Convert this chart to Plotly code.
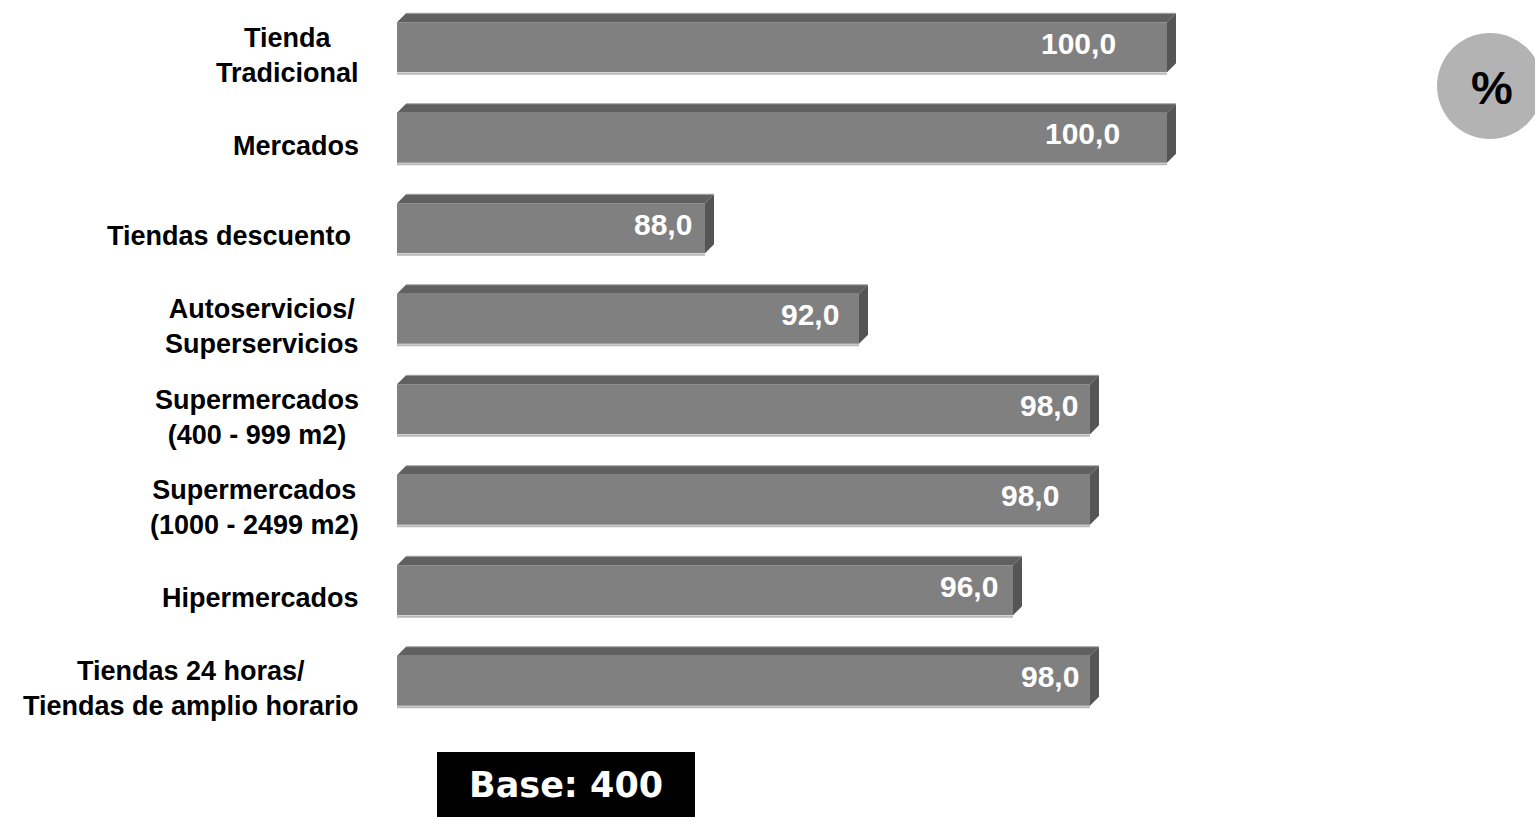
import plotly.graph_objects as go

# data
categories = [
    "Tienda<br>Tradicional",
    "Mercados",
    "Tiendas descuento\u00a0",
    "Autoservicios/<br>Superservicios",
    "Supermercados<br>(400 - 999 m2)",
    "Supermercados<br>(1000 - 2499 m2)",
    "Hipermercados",
    "Tiendas 24 horas/<br>Tiendas de amplio horario",
]
values = [100.0, 100.0, 88.0, 92.0, 98.0, 98.0, 96.0, 98.0]
base_text = "Base: 400"
unit_text = "%"

# label offsets from bar end (px), as placed in the original
label_shift = [-49, -45, -11, -18, -10, -29, -13, -9]

# layout geometry (px)
W, H = 1535, 817
L, T = 397, 2
PW, PH = 1000, 724
X_MIN = 80
PX_PER_X = 38.5
PX_PER_Y = PH / len(categories)
DEPTH = 9
BAR_PX = 50

FONT = "Arial, 'Liberation Sans', sans-serif"

dx = DEPTH / PX_PER_X
dy = DEPTH / PX_PER_Y
bw = BAR_PX / PX_PER_Y
idx = list(range(len(categories)))


def paper_x(px):
    return (px - L) / PW


def paper_y(py):
    return (T + PH - py) / PH


top_x, top_y, side_x, side_y = [], [], [], []
edge_x, edge_y, floor_x, floor_y = [], [], [], []
for i, v in zip(idx, values):
    y_top = i - bw / 2
    y_bot = i + bw / 2
    top_x += [X_MIN, X_MIN + dx, v + dx, v, X_MIN, None]
    top_y += [y_top, y_top - dy, y_top - dy, y_top, y_top, None]
    side_x += [v, v + dx, v + dx, v, v, None]
    side_y += [y_top, y_top - dy, y_bot - dy, y_bot, y_top, None]
    edge_x += [X_MIN + dx, v + dx, None]
    edge_y += [y_top - dy, y_top - dy, None]
    floor_x += [X_MIN, v, None]
    floor_y += [y_bot + 1.5 / PX_PER_Y, y_bot + 1.5 / PX_PER_Y, None]

fig = go.Figure()
fig.add_trace(
    go.Bar(
        y=idx,
        x=values,
        orientation="h",
        width=bw,
        marker=dict(color="#808080", line=dict(width=0)),
        hoverinfo="skip",
    )
)
fig.add_trace(
    go.Scatter(x=top_x, y=top_y, mode="lines", fill="toself", fillcolor="#606060",
               line=dict(width=0, color="#606060"), hoverinfo="skip")
)
fig.add_trace(
    go.Scatter(x=side_x, y=side_y, mode="lines", fill="toself", fillcolor="#555555",
               line=dict(width=0, color="#555555"), hoverinfo="skip")
)
fig.add_trace(
    go.Scatter(x=edge_x, y=edge_y, mode="lines", line=dict(width=1, color="#a6a6a6"), hoverinfo="skip")
)
fig.add_trace(
    go.Scatter(x=floor_x, y=floor_y, mode="lines", line=dict(width=2, color="#b8b8b8"), hoverinfo="skip")
)

annotations = []
for i, (cat, v) in enumerate(zip(categories, values)):
    annotations.append(
        dict(x=0, xref="paper", y=i, yref="y", text=f"<b>{cat}</b>", showarrow=False,
             xanchor="right", yanchor="middle", xshift=-36, yshift=-8, align="center",
             font=dict(family=FONT, size=27, color="#000000"))
    )
    annotations.append(
        dict(x=v, xref="x", y=i, yref="y", text=f"<b>{v:.1f}</b>".replace(".", ","), showarrow=False,
             xanchor="right", yanchor="middle", xshift=label_shift[i], yshift=4,
             font=dict(family=FONT, size=30, color="#ffffff"))
    )

annotations.append(
    dict(x=paper_x(566), xref="paper", y=paper_y(785), yref="paper", text=f"<b>{base_text}</b>",
         showarrow=False, xanchor="center", yanchor="middle",
         font=dict(family="'DejaVu Sans', sans-serif", size=35, color="#ffffff"))
)
annotations.append(
    dict(x=paper_x(1492), xref="paper", y=paper_y(88), yref="paper", text=f"<b>{unit_text}</b>",
         showarrow=False, xanchor="center", yanchor="middle",
         font=dict(family=FONT, size=47, color="#000000"))
)

shapes = [
    dict(type="rect", xref="paper", yref="paper", x0=paper_x(437), x1=paper_x(695),
         y0=paper_y(752), y1=paper_y(830), fillcolor="#000000", line=dict(width=0), layer="above"),
    dict(type="circle", xref="paper", yref="paper", x0=paper_x(1437), x1=paper_x(1543),
         y0=paper_y(33), y1=paper_y(139), fillcolor="#b3b3b3", line=dict(width=0), layer="below"),
]

fig.update_layout(
    width=W,
    height=H,
    margin=dict(l=L, r=W - L - PW, t=T, b=H - T - PH, pad=0),
    paper_bgcolor="#ffffff",
    plot_bgcolor="#ffffff",
    showlegend=False,
    xaxis=dict(range=[X_MIN, X_MIN + PW / PX_PER_X], showgrid=False, zeroline=False,
               showticklabels=False, showline=False, fixedrange=True),
    yaxis=dict(range=[len(categories) - 0.5, -0.5], showgrid=False, zeroline=False,
               showticklabels=False, showline=False, fixedrange=True),
    annotations=annotations,
    shapes=shapes,
)

fig.write_html(
    "out.html",
    config={"displayModeBar": False},
    post_script="document.body.style.margin='0';document.body.style.overflow='hidden';",
)
